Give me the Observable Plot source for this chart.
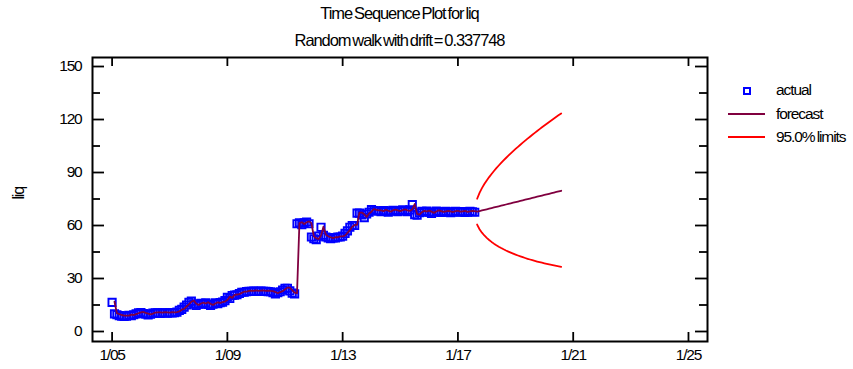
<!DOCTYPE html>
<html>
<head>
<meta charset="utf-8">
<script src="https://cdn.jsdelivr.net/npm/d3@7"></script>
<script src="https://cdn.jsdelivr.net/npm/@observablehq/plot@0.6"></script>
<style>
  body { margin: 0; background: #fff; font-family: "Liberation Sans", Arial, sans-serif; }
  #wrap { position: relative; width: 853px; height: 369px; overflow: hidden; }
  #wrap svg text { letter-spacing: -1.2px; }
  .ttl { position: absolute; left: 92px; width: 615px; text-align: center; color: #000;
         font-size: 16.5px; line-height: 18px; letter-spacing: -1.1px; word-spacing: -1.5px; white-space: nowrap; }
  .lg { position: absolute; font-size: 15.5px; line-height: 16px; letter-spacing: -1.1px; word-spacing: -1px; color: #000; white-space: nowrap; }
  .sw { position: absolute; box-sizing: border-box; }
</style>
</head>
<body>
<div id="wrap">
  <div class="ttl" style="top:4px">Time Sequence Plot for liq</div>
  <div class="ttl" style="top:31px">Random walk with drift = 0.337748</div>
  <div class="sw" style="left:743px;top:87px;width:8px;height:8px;border:2px solid #0000ff;"></div>
  <div class="lg" style="left:776px;top:82px">actual</div>
  <div class="sw" style="left:728px;top:113px;width:37px;height:2px;background:#80003f;"></div>
  <div class="lg" style="left:776px;top:106px">forecast</div>
  <div class="sw" style="left:728px;top:136px;width:37px;height:2px;background:#ff0000;"></div>
  <div class="lg" style="left:776px;top:129px">95.0% limits</div>
</div>
<script>
// Monthly series, first observation January 2005
const startYear = 2005;

// observed liq values (monthly, Jan 2005 .. Aug 2017)
const actual = [
  16.5,10.0,9.5,9.0,8.7,8.6,8.7,9.2,9.0,9.5,10.0,10.5,
  10.7,10.2,9.8,9.4,9.8,10.4,10.5,10.5,10.3,10.6,10.5,10.4,
  10.6,10.5,10.6,11.0,12.0,12.5,13.8,15.0,16.5,17.2,15.5,14.7,
  15.5,16.0,15.5,16.2,15.3,14.7,15.5,16.2,15.8,16.3,16.6,17.5,
  19.4,18.7,20.4,20.6,20.8,21.5,22.2,22.2,22.6,22.8,22.7,22.9,
  22.7,22.8,22.9,22.7,22.8,22.6,22.5,22.0,21.3,22.0,22.5,23.5,
  24.5,24.5,23.0,21.7,21.3,61.0,61.5,60.5,61.5,62.0,61.0,53.5,
  52.5,52.0,54.0,59.0,54.5,53.5,53.0,52.5,53.0,53.0,53.5,53.5,
  54.0,55.5,57.0,59.0,60.0,60.0,67.0,67.0,66.0,64.5,66.5,67.5,
  69.0,68.5,68.3,68.2,67.8,68.5,68.0,67.5,68.3,68.6,68.2,67.8,
  68.4,68.8,68.2,67.9,68.8,71.8,66.2,65.8,67.2,68.0,67.6,68.1,
  67.5,66.8,67.6,68.2,67.8,67.4,67.7,68.0,67.6,67.3,67.8,68.0,
  67.5,67.7,67.9,67.4,67.6,68.0,67.8,67.5
];

// one-step-ahead forecasts over the observed period (Feb 2005 .. Aug 2017)
const fitted = [
  16.84,10.34,9.84,9.34,9.04,8.94,9.04,9.54,9.34,9.84,10.34,10.84,
  11.04,10.54,10.14,9.74,10.14,10.74,10.84,10.84,10.64,10.94,10.84,10.74,
  10.94,10.84,10.94,11.34,12.34,12.84,14.14,15.34,16.84,17.54,15.84,15.04,
  15.84,16.34,15.84,16.54,15.64,15.04,15.84,16.54,16.14,16.64,16.94,17.84,
  19.74,19.04,20.74,20.94,21.14,21.84,22.54,22.54,22.94,23.14,23.04,23.24,
  23.04,23.14,23.24,23.04,23.14,22.94,22.84,22.34,21.64,22.34,22.84,23.84,
  24.84,24.84,23.34,22.04,21.64,61.34,61.84,60.84,61.84,62.34,61.34,53.84,
  52.84,52.34,54.34,59.34,54.84,53.84,53.34,52.84,53.34,53.34,53.84,53.84,
  54.34,55.84,57.34,59.34,60.34,60.34,67.34,67.34,66.34,64.84,66.84,67.84,
  69.34,68.84,68.64,68.54,68.14,68.84,68.34,67.84,68.64,68.94,68.54,68.14,
  68.74,69.14,68.54,68.24,69.14,72.14,66.54,66.14,67.54,68.34,67.94,68.44,
  67.84,67.14,67.94,68.54,68.14,67.74,68.04,68.34,67.94,67.64,68.14,68.34,
  67.84,68.04,68.24,67.74,67.94,68.34,68.14
];

// out-of-sample forecasts, Sep 2017 .. Aug 2020
const forecast = [
  67.84,68.18,68.51,68.85,69.19,69.53,69.86,70.20,70.54,70.88,71.21,71.55,
  71.89,72.23,72.57,72.90,73.24,73.58,73.92,74.25,74.59,74.93,75.27,75.60,
  75.94,76.28,76.62,76.96,77.29,77.63,77.97,78.31,78.64,78.98,79.32,79.66
];
const upper = [
  75.14,78.50,81.15,83.45,85.51,87.41,89.17,90.85,92.44,93.96,95.42,96.84,
  98.21,99.54,100.84,102.10,103.34,104.55,105.74,106.90,108.04,109.17,110.28,111.36,
  112.44,113.50,114.55,115.59,116.60,117.61,118.62,119.61,120.58,121.55,122.51,123.46
];
const lower = [
  60.54,57.90,55.95,54.35,53.00,51.80,50.72,49.74,48.85,48.02,47.25,46.53,
  45.86,45.23,44.63,44.06,43.52,43.01,42.52,42.05,41.60,41.17,40.76,40.36,
  39.98,39.62,39.27,38.93,38.60,38.28,37.98,37.68,37.40,37.12,36.85,36.60
];

const yMajorTicks = [0, 30, 60, 90, 120, 150];
const yMinorTicks = [15, 45, 75, 105, 135];
const xTickValues = [2005, 2009, 2013, 2017, 2021, 2025];
const xTickLabels = ["1/05", "1/09", "1/13", "1/17", "1/21", "1/25"];

const tOf = i => startYear + i / 12;
const n = actual.length;
const actualData = actual.map((v, i) => ({t: tOf(i), v}));
const fitData = fitted.map((v, i) => ({t: tOf(i + 1), v}))
  .concat(forecast.map((v, h) => ({t: tOf(n + h), v})));
const upData = upper.map((v, h) => ({t: tOf(n + h), v}));
const loData = lower.map((v, h) => ({t: tOf(n + h), v}));

const mL = 92, mR = 146, mT = 57, mB = 28, W = 853, H = 369;
const FW = W - mL - mR, FH = H - mT - mB;

const chart = Plot.plot({
  width: W, height: H,
  marginLeft: mL, marginRight: mR, marginTop: mT, marginBottom: mB,
  style: {fontFamily: "Liberation Sans, Arial, sans-serif", fontSize: "15.5px", background: "#fff", color: "#000"},
  x: {domain: [2004.32, 2025.66]},
  y: {domain: [-5.66, 155.1]},
  marks: [
    Plot.dot(actualData, {x: "t", y: "v", symbol: "square", r: 4.1, stroke: "#0000ff", strokeWidth: 1.9, fill: "none"}),
    Plot.line(fitData, {x: "t", y: "v", stroke: "#80003f", strokeWidth: 1.8}),
    Plot.line(upData, {x: "t", y: "v", stroke: "#ff0000", strokeWidth: 1.8}),
    Plot.line(loData, {x: "t", y: "v", stroke: "#ff0000", strokeWidth: 1.8}),
    // inward ticks
    Plot.tickY(yMajorTicks, {y: d => d, insetRight: FW - 12, stroke: "#000", strokeWidth: 1.8}),
    Plot.tickY(yMinorTicks, {y: d => d, insetRight: FW - 8, stroke: "#000", strokeWidth: 1.8}),
    Plot.tickY(yMajorTicks, {y: d => d, insetLeft: FW - 12, stroke: "#000", strokeWidth: 1.8}),
    Plot.tickY(yMinorTicks, {y: d => d, insetLeft: FW - 8, stroke: "#000", strokeWidth: 1.8}),
    Plot.tickX(xTickValues, {x: d => d, insetTop: FH - 9, stroke: "#000", strokeWidth: 1.8}),
    Plot.tickX(xTickValues, {x: d => d, insetBottom: FH - 9, stroke: "#000", strokeWidth: 1.8}),
    Plot.frame({stroke: "#000", strokeWidth: 2}),
    Plot.axisY(yMajorTicks, {tickSize: 0, tickPadding: 11, label: null, fontSize: 15.5}),
    Plot.axisX(xTickValues, {tickSize: 0, tickPadding: 7, label: null, fontSize: 15.5,
      tickFormat: d => xTickLabels[xTickValues.indexOf(d)]}),
    Plot.text(["liq"], {text: d => d, frameAnchor: "left", dx: -74, rotate: -90, fontSize: 16})
  ]
});
document.getElementById("wrap").prepend(chart);
</script>
</body>
</html>
